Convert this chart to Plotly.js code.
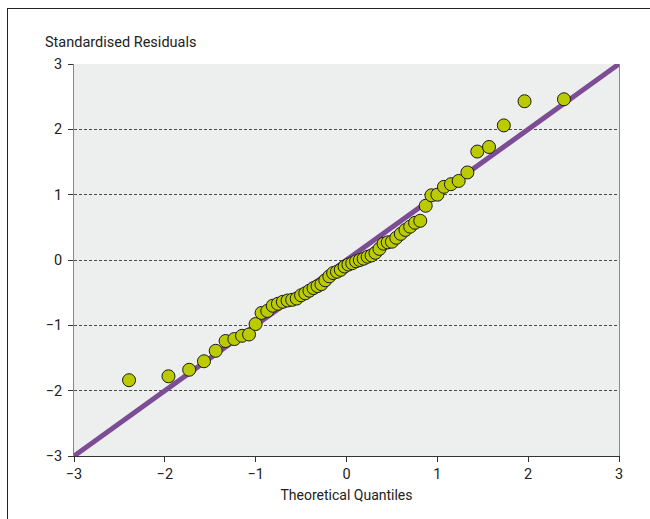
<!DOCTYPE html>
<html>
<head>
<meta charset="utf-8">
<script src="https://cdn.plot.ly/plotly-3.0.1.min.js"></script>
<style>
  html, body { margin: 0; padding: 0; background: #fff; }
  #wrap { position: relative; width: 650px; height: 519px; overflow: hidden; }
  #frame { position: absolute; left: 7px; top: 8px; width: 700px; height: 600px;
           border-left: 1px solid #222; border-top: 1px solid #222; pointer-events: none; z-index: 5; }
  #chart { position: absolute; left: 0; top: 0; width: 650px; height: 519px; }
</style>
</head>
<body>
<div id="wrap">
  <div id="chart"></div>
  <div id="frame"></div>
</div>
<script>
// Theoretical quantiles
const theoreticalQuantiles = [
  -2.394, -1.960, -1.732, -1.569, -1.440, -1.331, -1.235, -1.150, -1.073, -1.001,
  -0.935, -0.872, -0.812, -0.755, -0.701, -0.649, -0.598, -0.548, -0.500, -0.454,
  -0.408, -0.363, -0.319, -0.276, -0.233, -0.189, -0.147, -0.105, -0.063, -0.021,
   0.021,  0.063,  0.105,  0.147,  0.189,  0.233,  0.276,  0.319,  0.363,  0.408,
   0.454,  0.500,  0.548,  0.598,  0.649,  0.701,  0.755,  0.812,  0.872,  0.935,
   1.001,  1.073,  1.150,  1.235,  1.331,  1.440,  1.569,  1.732,  1.960,  2.394
];
// Standardised residuals (sorted)
const standardisedResiduals = [
  -1.84, -1.78, -1.68, -1.55, -1.39, -1.24, -1.21, -1.16, -1.14, -0.98,
  -0.81, -0.78, -0.70, -0.67, -0.64, -0.62, -0.61, -0.59, -0.54, -0.51,
  -0.47, -0.43, -0.40, -0.37, -0.31, -0.25, -0.20, -0.18, -0.15, -0.10,
  -0.07, -0.05, -0.02,  0.00,  0.02,  0.05,  0.07,  0.11,  0.17,  0.25,
   0.27,  0.28,  0.34,  0.40,  0.46,  0.51,  0.57,  0.60,  0.83,  0.99,
   1.00,  1.12,  1.16,  1.21,  1.34,  1.66,  1.73,  2.06,  2.43,  2.46
];
// Reference line y = x
const refLineX = [-3, 3];
const refLineY = [-3, 3];
const tickValues = [-3, -2, -1, 0, 1, 2, 3];

const FONT = '"Roboto", "Liberation Sans", sans-serif';

const traces = [
  {
    x: refLineX, y: refLineY, type: 'scatter', mode: 'lines',
    line: { color: '#7c4d95', width: 5 },
    hoverinfo: 'skip', showlegend: false, cliponaxis: false
  },
  {
    x: theoreticalQuantiles, y: standardisedResiduals, type: 'scatter', mode: 'markers',
    marker: { color: '#bacb00', size: 13, line: { color: '#1a1a1a', width: 1 } },
    showlegend: false, cliponaxis: false
  }
];

const layout = {
  width: 650, height: 519,
  margin: { l: 74, r: 31, t: 64, b: 63 },
  paper_bgcolor: '#ffffff',
  plot_bgcolor: '#edefee',
  font: { family: FONT, size: 14, color: '#222' },
  showlegend: false,
  xaxis: {
    range: [-3, 3], tickvals: tickValues, ticks: 'outside', ticklen: 5, tickcolor: '#333',
    showline: true, linecolor: '#333', linewidth: 1, mirror: false,
    showgrid: false, zeroline: false,
    tickfont: { family: FONT, size: 14.5, color: '#222' },
    title: { text: 'Theoretical Quantiles', font: { family: FONT, size: 14, color: '#222' }, standoff: 7 }
  },
  yaxis: {
    range: [-3, 3], tickvals: tickValues, ticks: 'outside', ticklen: 5, tickcolor: '#333',
    ticklabelstandoff: 3,
    showline: true, linecolor: '#888', linewidth: 1, mirror: true,
    showgrid: true, gridcolor: '#4a4a4a', griddash: '3px,2px', gridwidth: 1,
    zeroline: false,
    tickfont: { family: FONT, size: 14.5, color: '#222' }
  },
  annotations: [
    {
      text: 'Standardised Residuals', xref: 'paper', yref: 'paper',
      x: -0.056, y: 1.0, xanchor: 'left', yanchor: 'bottom', yshift: 11,
      showarrow: false, font: { family: FONT, size: 14.5, color: '#222' }
    }
  ]
};

Plotly.newPlot('chart', traces, layout, { staticPlot: true, displayModeBar: false });
</script>
</body>
</html>
